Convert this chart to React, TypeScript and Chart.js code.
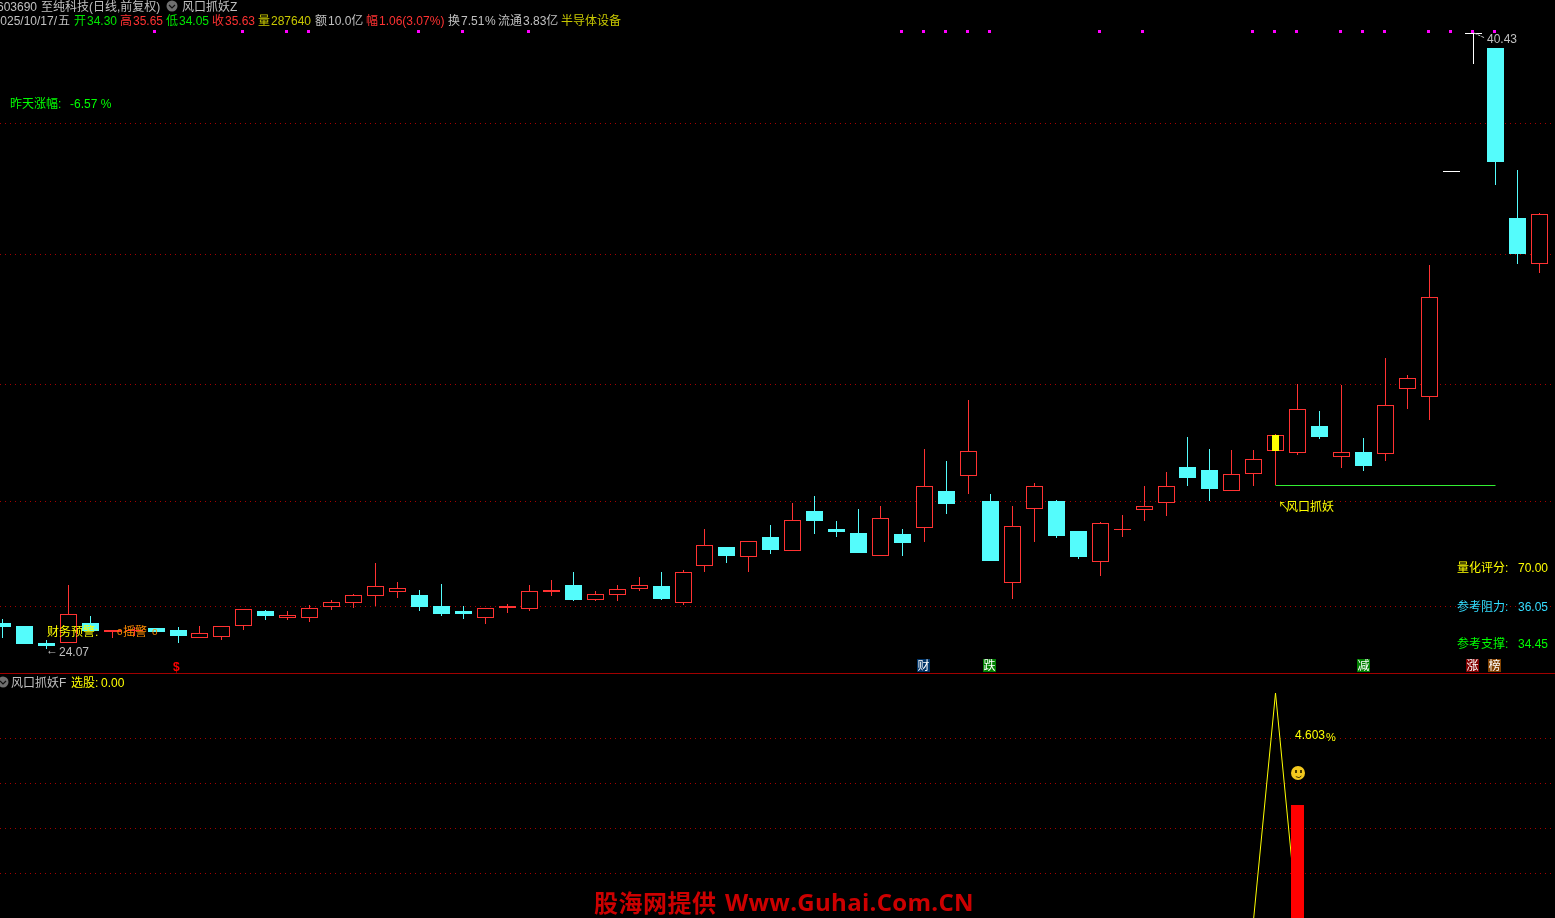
import React, { useEffect, useRef } from "react";
import { Chart, registerables, LinearScale } from "chart.js";

// ---- Daily bars, oldest first (prices in yuan) ----
const opens = [24.76,24.68,24.23,24.23,24.76,24.52,24.55,24.63,24.57,24.36,24.39,24.68,25.08,24.89,24.89,25.19,25.29,25.48,25.58,25.50,25.21,25.08,24.89,25.16,25.13,25.58,25.77,25.37,25.50,25.66,25.74,25.29,26.27,26.78,26.51,27.04,26.67,27.74,27.26,27.15,26.54,27.12,27.28,28.27,28.66,28.00,25.82,27.79,28.00,27.20,26.38,27.23,27.76,27.95,28.90,28.82,28.27,28.72,29.33,29.28,29.99,29.17,29.30,29.25,30.98,30.76,36.74,40.40,40.03,35.52,34.30];
const highs = [24.87,24.68,24.31,25.77,24.95,24.57,24.65,24.63,24.65,24.68,24.68,25.13,25.11,25.08,25.24,25.37,25.53,26.35,25.85,25.64,25.80,25.21,25.16,25.26,25.77,25.90,26.11,25.61,25.77,25.98,26.11,26.17,27.26,26.78,26.94,27.36,27.95,28.13,27.47,27.79,27.87,27.26,29.38,29.06,30.68,28.19,27.87,28.48,28.03,27.20,27.44,27.63,28.40,28.77,29.70,29.38,29.36,29.36,29.78,31.11,30.39,31.08,29.67,31.80,31.35,34.27,36.77,40.43,40.03,36.79,35.65];
const lows = [24.36,24.20,24.07,24.23,24.55,24.36,24.42,24.52,24.23,24.36,24.31,24.57,24.84,24.84,24.79,25.11,25.16,25.21,25.42,25.08,24.95,24.87,24.73,25.03,25.08,25.48,25.34,25.34,25.34,25.61,25.37,25.24,26.11,26.35,26.11,26.59,26.67,27.12,27.04,26.62,26.54,26.54,26.91,27.66,28.19,26.41,25.40,26.91,27.02,26.46,26.01,27.04,27.47,27.60,28.40,28.00,28.27,28.40,28.43,29.22,29.65,28.88,28.80,29.06,30.44,30.15,36.74,39.61,36.39,34.30,34.05];
const closes = [24.65,24.20,24.15,25.00,24.55,24.57,24.57,24.52,24.42,24.50,24.68,25.13,24.95,24.97,25.16,25.32,25.50,25.74,25.69,25.19,25.00,25.00,25.16,25.21,25.61,25.64,25.37,25.53,25.66,25.77,25.40,26.11,26.83,26.54,26.94,26.70,27.50,27.47,27.18,26.62,27.55,26.89,28.40,27.92,29.33,26.41,27.34,28.40,27.07,26.51,27.42,27.26,27.87,28.40,28.61,28.32,28.72,29.12,29.75,30.44,29.70,29.30,28.93,30.55,31.27,33.42,36.77,40.43,37.00,34.56,35.63];
const whiteBars = [66, 67];
const flagBars = [58];
const signalBars = [7,11,13,14,19,21,24,41,42,43,44,45,50,52,57,58,59,61,62,63,65,66,67,68];
const signalPrice = 40.48;
const baseLineBars = [58, 68];
const baseLinePrice = 28.43;

// ---- Lower panel ----
const pickBars = [57, 58, 59];
const pickLine = [0, 4.603, 0];
const stickBars = [59];
const stickValues = [2.33];

// ---- Grid levels ----
const priceGrid = [38.04, 34.56, 31.11, 28.0, 25.21];
const panelGrid = [3.69, 2.78, 1.87, 0.95];

// ---- Text ----
const FONT = '"Liberation Sans","Noto Sans CJK SC",sans-serif';
const GREY = "#c0c0c0";
const GREEN = "#00e600";
const RED = "#ff3232";
const OLIVE = "#c8c800";
const YELLOW = "#ffff00";
const ORANGE = "#ff8c00";
const labels: [string, number, number, string, string?][] = [
  ["至纯科技(日线,前复权)", 41, 6, GREY],
  ["风口抓妖Z", 182, 6, GREY],
  ["五", 58, 20, GREY],
  ["开", 74, 20, GREEN], ["34.30", 87, 20, GREEN],
  ["高", 120, 20, RED], ["35.65", 133, 20, RED],
  ["低", 166, 20, GREEN], ["34.05", 179, 20, GREEN],
  ["收", 212, 20, RED], ["35.63", 225, 20, RED],
  ["量", 258, 20, OLIVE], ["287640", 271, 20, OLIVE],
  ["额", 315, 20, GREY], ["10.0亿", 328, 20, GREY],
  ["幅", 366, 20, RED], ["1.06(3.07%)", 379, 20, RED],
  ["换", 448, 20, GREY], ["7.51", 461, 20, GREY], ["%", 485, 20, GREY],
  ["流通", 498, 20, GREY], ["3.83亿", 523, 20, GREY],
  ["半导体设备", 561, 20, OLIVE],
  ["昨天涨幅:", 10, 103, "#00ff00"], ["-6.57 %", 70, 103, "#00ff00"],
  ["40.43", 1487, 38, GREY],
  ["←", 46, 649, GREY], ["24.07", 59, 651, GREY],
  ["财务预警:", 47, 631, YELLOW],
  ["摇警", 123, 631, ORANGE],
  ["o", 117, 630, ORANGE, "10px"], ["o", 152, 630, ORANGE, "10px"],
  ["↖", 1278, 506, YELLOW], ["风口抓妖", 1286, 506, YELLOW],
  ["量化评分:", 1457, 567, YELLOW], ["70.00", 1518, 567, YELLOW],
  ["参考阻力:", 1457, 606, "#33ddff"], ["36.05", 1518, 606, "#33ddff"],
  ["参考支撑:", 1457, 643, "#00ff00"], ["34.45", 1518, 643, "#00ff00"],
  ["风口抓妖F", 11, 682, GREY],
  ["选股:", 71, 682, YELLOW], ["0.00", 101, 682, YELLOW],
  ["4.603", 1295, 734, YELLOW], ["%", 1326, 736, YELLOW, "11px"],
  ["$", 173, 666, "#ff0000", "bold 12px"],
];
const clippedLabels: [string, number, number, string][] = [
  ["603690", 37, 6, GREY],
  ["2025/10/17/", 57, 20, GREY],
];
const badges: [string, number, string][] = [
  ["财", 917, "#003366"],
  ["跌", 983, "#008000"],
  ["减", 1357, "#008000"],
  ["涨", 1466, "#800000"],
  ["榜", 1488, "#804000"],
];

// ---- Pixel-snapped scales: the reference is drawn without anti-aliasing ----
class SnapX extends LinearScale {
  static id = "snapX";
  static defaults = LinearScale.defaults;
  getPixelForValue(v: number) { return Math.floor(super.getPixelForValue(v)) + 0.5; }
}
class SnapY extends LinearScale {
  static id = "snapY";
  static defaults = LinearScale.defaults;
  getPixelForValue(v: number) { return Math.round(super.getPixelForValue(v)); }
}
class SnapMid extends LinearScale {
  static id = "snapMid";
  static defaults = LinearScale.defaults;
  getPixelForValue(v: number) { return Math.round(super.getPixelForValue(v)) + 0.5; }
}
Chart.register(...registerables, SnapX, SnapY, SnapMid);

const CANDLE_RED = "#ff3232";
const CANDLE_CYAN = "#54fcfc";
const CANDLE_WHITE = "#ffffff";
const toneOf = (i: number) =>
  whiteBars.includes(i) ? CANDLE_WHITE : closes[i] > opens[i] ? CANDLE_RED : CANDLE_CYAN;

const art = {
  id: "art",
  beforeDraw(chart: any) {
    const { ctx, width, height } = chart;
    ctx.save();
    ctx.fillStyle = "#000";
    ctx.fillRect(0, 0, width, height);
    ctx.fillStyle = "#a00000";
    ctx.fillRect(0, 673, width, 1);
    ctx.restore();
  },
  afterDraw(chart: any) {
    const { ctx } = chart;
    ctx.save();
    ctx.textBaseline = "alphabetic";
    const run = (t: string, x: number, y: number, c: string, f = "12px", align = "left") => {
      ctx.font = `${f} ${FONT}`;
      ctx.fillStyle = c;
      ctx.textAlign = align;
      ctx.fillText(t, x, y + 5);
    };
    labels.forEach(([t, x, y, c, f]) => run(t, x, y, c, f));
    clippedLabels.forEach(([t, x, y, c]) => run(t, x, y, c, "12px", "right"));

    badges.forEach(([t, x, bg]) => {
      ctx.fillStyle = bg;
      ctx.fillRect(x, 659, 13, 13);
      run(t, x + 0.5, 665, "#ffffff");
    });

    // option icons
    [[172, 6], [3, 682]].forEach(([x, y]) => {
      ctx.fillStyle = "#707070";
      ctx.beginPath();
      ctx.arc(x, y, 5.5, 0, Math.PI * 2);
      ctx.fill();
      ctx.strokeStyle = "#101010";
      ctx.lineWidth = 1.2;
      ctx.beginPath();
      ctx.moveTo(x - 3, y - 1);
      ctx.lineTo(x, y + 2);
      ctx.lineTo(x + 3, y - 1);
      ctx.stroke();
    });

    // high-price pointer
    ctx.strokeStyle = GREY;
    ctx.lineWidth = 1;
    ctx.setLineDash([3, 1]);
    ctx.beginPath();
    ctx.moveTo(1474, 33);
    ctx.lineTo(1485, 38);
    ctx.stroke();
    ctx.setLineDash([]);

    // smiley
    ctx.fillStyle = "#f2c81e";
    ctx.beginPath();
    ctx.arc(1298, 773, 7, 0, Math.PI * 2);
    ctx.fill();
    ctx.fillStyle = "#4a3a00";
    ctx.fillRect(1295, 770, 2, 3);
    ctx.fillRect(1300, 770, 2, 3);
    ctx.strokeStyle = "#4a3a00";
    ctx.beginPath();
    ctx.arc(1298.5, 774, 3.5, 0.2 * Math.PI, 0.8 * Math.PI);
    ctx.stroke();

    // source line
    ctx.font = 'bold 24px "Noto Sans CJK SC",sans-serif';
    ctx.fillStyle = "#cc0000";
    ctx.textAlign = "left";
    ctx.letterSpacing = "0.5px";
    ctx.fillText("股海网提供", 594, 912);
    ctx.font = 'bold 24px "Open Sans",sans-serif';
    ctx.letterSpacing = "0.3px";
    ctx.fillText("Www.Guhai.Com.CN", 725, 911, 249);
    ctx.restore();
  },
};

const hiddenAxis = (type: string, min: number, max: number) => ({
  type, min, max, display: false, grid: { display: false }, ticks: { display: false },
});
const gridAxis = (min: number, max: number, levels: number[]) => ({
  type: "snapY",
  min,
  max,
  position: "left",
  border: { display: false, dash: [1, 4] },
  grid: { color: "#a80000", lineWidth: 1, drawTicks: false },
  ticks: { display: false },
  afterBuildTicks: (s: any) => { s.ticks = levels.map((value) => ({ value })); },
});

export default function App() {
  const ref = useRef<HTMLCanvasElement | null>(null);
  useEffect(() => {
    document.body.style.margin = "0";
    document.body.style.background = "#000";
    document.body.style.overflow = "hidden";
    const idx = opens.map((_, i) => i);
    const barCommon = {
      type: "bar", grouped: false, barPercentage: 1, categoryPercentage: 1,
      inflateAmount: 0, borderSkipped: false, xAxisID: "x",
    };
    const chart = new Chart(ref.current as HTMLCanvasElement, {
      type: "bar",
      data: {
        datasets: [
          { ...barCommon, label: "flag", yAxisID: "y", order: 3, maxBarThickness: 7, backgroundColor: "#ffff00",
            data: flagBars.map((i) => ({ x: i, y: [opens[i], closes[i]] })) },
          { ...barCommon, label: "bodies", yAxisID: "y", order: 4, maxBarThickness: 17, borderWidth: 1,
            borderColor: (c: any) => toneOf(c.raw?.x ?? c.dataIndex),
            backgroundColor: (c: any) => (toneOf(c.raw?.x ?? c.dataIndex) === CANDLE_CYAN ? CANDLE_CYAN : "#000000"),
            data: idx.map((i) => ({ x: i, y: [opens[i], closes[i]] })) },
          { ...barCommon, label: "wicks", yAxisID: "y", order: 5, maxBarThickness: 1,
            backgroundColor: (c: any) => toneOf(c.raw?.x ?? c.dataIndex),
            data: idx.map((i) => ({ x: i, y: [lows[i], highs[i]] })) },
          { type: "line", label: "signals", yAxisID: "yMarks", xAxisID: "x", order: 2, showLine: false,
            pointStyle: "rect", pointRadius: 2.1213, pointBorderWidth: 0, pointBackgroundColor: "#ff00ff",
            data: signalBars.map((i) => ({ x: i - 0.05, y: signalPrice })) },
          { type: "line", label: "base", yAxisID: "yMarks", xAxisID: "x", order: 2, borderColor: "#33ee33",
            borderWidth: 1, pointRadius: 0,
            data: baseLineBars.map((i) => ({ x: i, y: baseLinePrice })) },
          { ...barCommon, label: "stick", yAxisID: "y2", order: 6, maxBarThickness: 13, backgroundColor: "#ff0000",
            data: stickBars.map((i, k) => ({ x: i, y: stickValues[k] })) },
          { type: "line", label: "pick", yAxisID: "y2", xAxisID: "x", order: 7, borderColor: "#ffff00",
            borderWidth: 1, pointRadius: 0, tension: 0,
            data: pickBars.map((i, k) => ({ x: i, y: pickLine[k] })) },
        ],
      } as any,
      options: {
        animation: false,
        responsive: false,
        maintainAspectRatio: false,
        layout: { padding: 0, autoPadding: false },
        events: [],
        plugins: { legend: { display: false }, title: { display: false }, tooltip: { enabled: false } },
        scales: {
          x: {
            ...hiddenAxis("snapX", -0.10931, 70.7174),
            offset: false,
            afterBuildTicks: (s: any) => { s.ticks = [{ value: -0.10931 }, { value: 70.7174 }]; },
          },
          y: gridAxis(16.925, 41.307, priceGrid),
          y2: gridAxis(0.0406, 18.661, panelGrid),
          yMarks: hiddenAxis("snapMid", 16.925, 41.307),
        },
      } as any,
      plugins: [art],
    });
    return () => chart.destroy();
  }, []);
  return (
    <canvas
      ref={ref}
      width={1555}
      height={918}
      style={{ position: "absolute", left: 0, top: 0, display: "block", width: 1555, height: 918 }}
    />
  );
}
